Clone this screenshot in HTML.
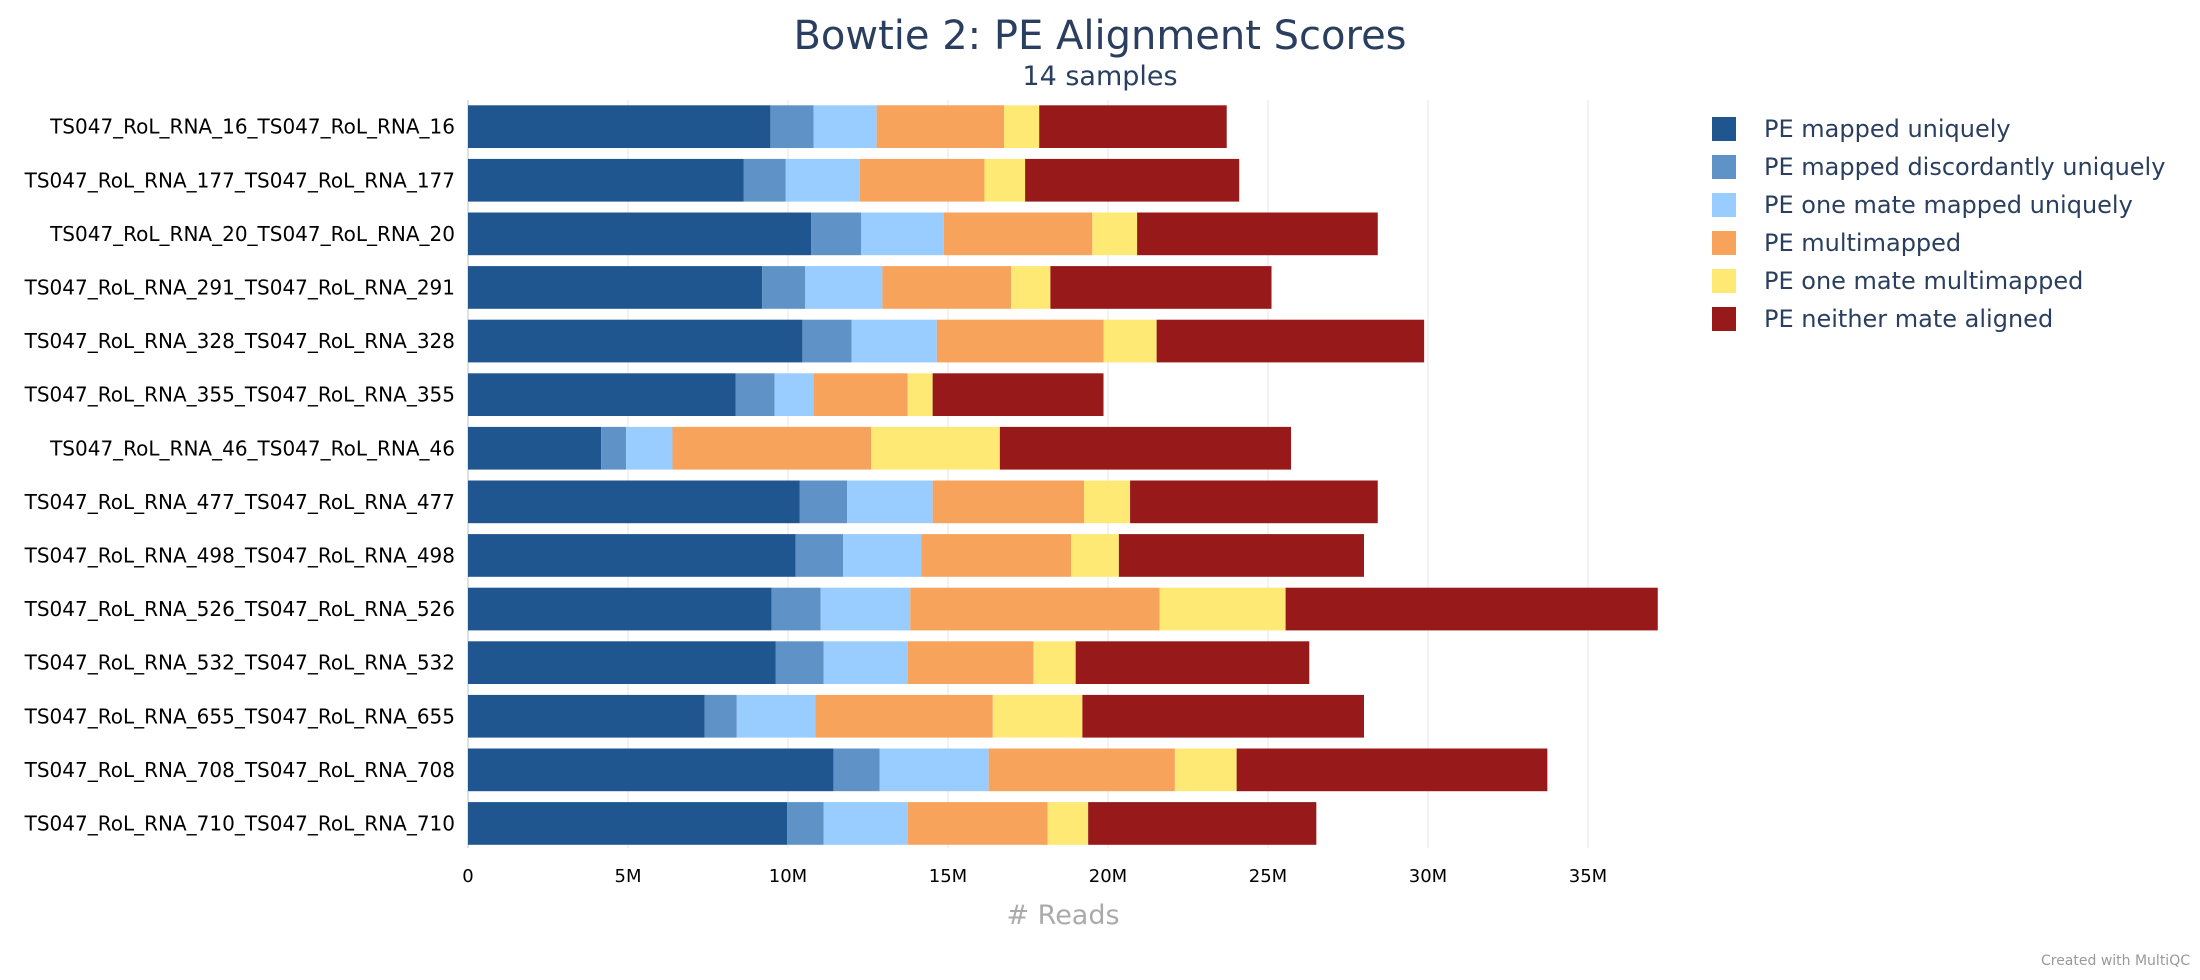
<!DOCTYPE html>
<html><head><meta charset="utf-8"><style>
html,body{margin:0;padding:0;background:#fff;}
svg{display:block;}
</style></head><body>
<svg id="chart" width="2200" height="980" xmlns="http://www.w3.org/2000/svg">
<text x="1100" y="49" text-anchor="middle" font-family="DejaVu Sans, sans-serif" font-size="40" fill="#2a3f5f">Bowtie 2: PE Alignment Scores</text>
<text x="1100" y="85" text-anchor="middle" font-family="DejaVu Sans, sans-serif" font-size="27" fill="#2a3f5f">14 samples</text>
<g id="grid"></g><g id="bars"></g><g id="ylabels"></g><g id="xticks"></g><g id="legend"></g>
<text x="1063" y="924" text-anchor="middle" font-family="DejaVu Sans, sans-serif" font-size="27" fill="#aaaaaa"># Reads</text>
<text x="2190" y="965" text-anchor="end" font-family="DejaVu Sans, sans-serif" font-size="14" fill="#999999">Created with MultiQC</text>
</svg>
<script>
const samples = ["TS047_RoL_RNA_16_TS047_RoL_RNA_16","TS047_RoL_RNA_177_TS047_RoL_RNA_177","TS047_RoL_RNA_20_TS047_RoL_RNA_20","TS047_RoL_RNA_291_TS047_RoL_RNA_291","TS047_RoL_RNA_328_TS047_RoL_RNA_328","TS047_RoL_RNA_355_TS047_RoL_RNA_355","TS047_RoL_RNA_46_TS047_RoL_RNA_46","TS047_RoL_RNA_477_TS047_RoL_RNA_477","TS047_RoL_RNA_498_TS047_RoL_RNA_498","TS047_RoL_RNA_526_TS047_RoL_RNA_526","TS047_RoL_RNA_532_TS047_RoL_RNA_532","TS047_RoL_RNA_655_TS047_RoL_RNA_655","TS047_RoL_RNA_708_TS047_RoL_RNA_708","TS047_RoL_RNA_710_TS047_RoL_RNA_710"];
const seriesNames = ["PE mapped uniquely","PE mapped discordantly uniquely","PE one mate mapped uniquely","PE multimapped","PE one mate multimapped","PE neither mate aligned"];
const mappedUniquely = [9.45,8.62,10.72,9.19,10.45,8.36,4.16,10.37,10.24,9.49,9.62,7.39,11.42,9.97];
const discordantUniquely = [1.35,1.31,1.57,1.35,1.54,1.22,0.78,1.48,1.48,1.53,1.49,1.01,1.44,1.14];
const oneMateUniquely = [1.97,2.32,2.58,2.41,2.66,1.22,1.45,2.67,2.45,2.80,2.63,2.45,3.41,2.63];
const multimapped = [3.98,3.89,4.64,4.02,5.21,2.94,6.21,4.73,4.68,7.79,3.93,5.55,5.82,4.37];
const oneMateMultimapped = [1.10,1.27,1.40,1.23,1.66,0.78,4.02,1.44,1.49,3.94,1.32,2.80,1.93,1.27];
const neitherAligned = [5.86,6.69,7.52,6.91,8.36,5.34,9.10,7.74,7.66,11.63,7.30,8.80,9.71,7.13];
const xTicks = [0,5,10,15,20,25,30,35];
const xTickLabels = ["0","5M","10M","15M","20M","25M","30M","35M"];

const series = [mappedUniquely,discordantUniquely,oneMateUniquely,multimapped,oneMateMultimapped,neitherAligned];
const colors = ["#20568f","#5f93c8","#99ccff","#f7a35c","#ffe975","#981919"];
const NS="http://www.w3.org/2000/svg";
const FONT="DejaVu Sans, sans-serif";
const x0=468, pxPerM=32, plotTop=100, pitch=53.6, barH=42.7;
const xs = v => x0 + v*pxPerM;
const yb = i => plotTop + 5.3 + i*pitch;
function mk(tag, attrs, parent){const e=document.createElementNS(NS,tag);for(const k in attrs)e.setAttribute(k,attrs[k]);parent.appendChild(e);return e;}
const gridG=document.getElementById('grid'), barsG=document.getElementById('bars'), ylG=document.getElementById('ylabels'), xtG=document.getElementById('xticks'), lgG=document.getElementById('legend');
xTicks.forEach((t,i)=>{
  const l=mk('line',{x1:xs(t),x2:xs(t),y1:plotTop,y2:848,stroke:t===0?'#e0e0e0':'#eeeeee','stroke-width':t===0?2:1.5},gridG);
  
  
  const tx=mk('text',{x:xs(t),y:882,'text-anchor':'middle','font-family':FONT,'font-size':18,fill:'#000'},xtG);
  tx.textContent=xTickLabels[i];
  
  
});
samples.forEach((s,i)=>{
  let cum=0;
  series.forEach((arr,k)=>{
    const v=arr[i];
    const r=mk('rect',{x:xs(cum),y:yb(i),width:v*pxPerM,height:barH,fill:colors[k]},barsG);
    
    
    cum+=v;
  });
  const t=mk('text',{x:455,y:yb(i)+barH/2+7,'text-anchor':'end','font-family':FONT,'font-size':20,fill:'#000'},ylG);
  t.textContent=s;
  
  
});
seriesNames.forEach((n,k)=>{
  const cy=129+k*38;
  const r=mk('rect',{x:1712,y:cy-12,width:24,height:24,fill:colors[k]},lgG);
  
  
  const t=mk('text',{x:1764,y:cy+8,'font-family':FONT,'font-size':24,fill:'#2a3f5f'},lgG);
  t.textContent=n;
  
  
});
</script>
</body></html>
